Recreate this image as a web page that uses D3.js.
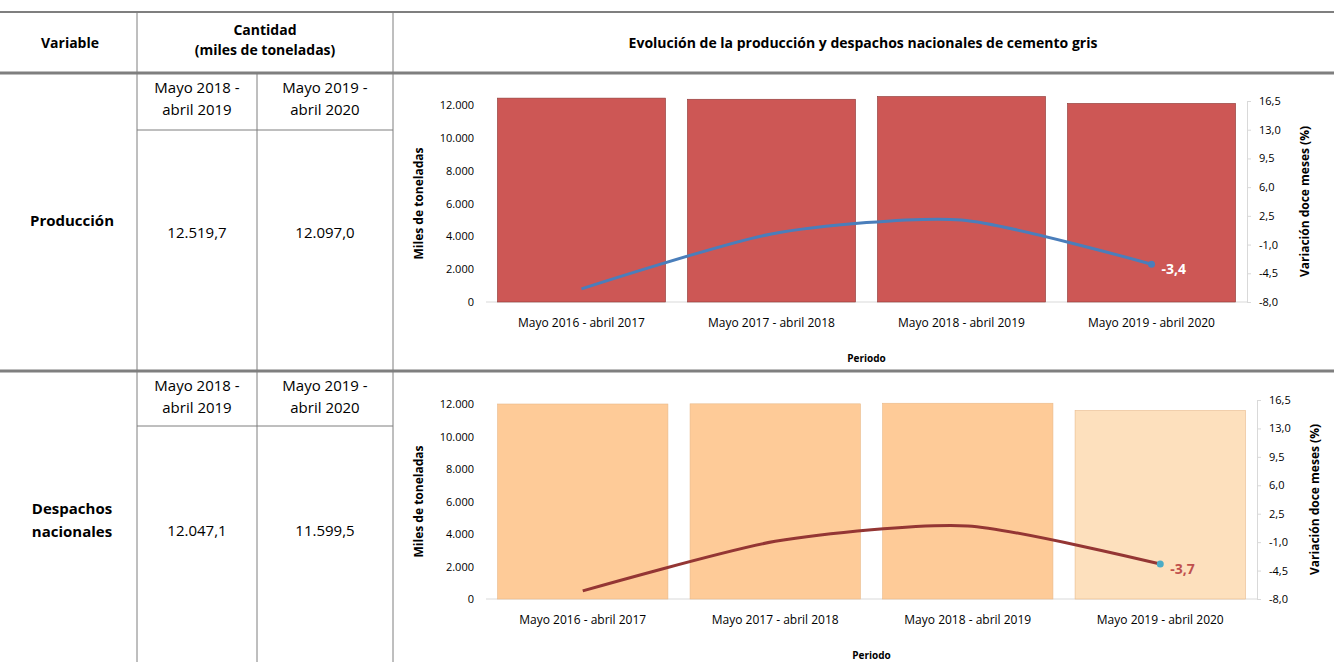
<!DOCTYPE html>
<html><head><meta charset="utf-8">
<script src="https://cdn.jsdelivr.net/npm/d3@7"></script>
<style>body{margin:0;background:#fff;font-family:"Open Sans",sans-serif}</style>
</head><body><svg id="svg" width="1334" height="662"></svg>
<script>
// data
const periods = ["Mayo 2016 - abril 2017","Mayo 2017 - abril 2018","Mayo 2018 - abril 2019","Mayo 2019 - abril 2020"]
const produccion = [12420, 12350, 12519.7, 12097.0]
const prodVar = [-6.4, 0.3, 2.0, -3.4]
const despachos = [12000, 12010, 12047.1, 11599.5]
const despVar = [-7.0, -0.9, 1.0, -3.7]
const leftTicks = [0, 2000, 4000, 6000, 8000, 10000, 12000]
const rightTicks = [-8.0, -4.5, -1.0, 2.5, 6.0, 9.5, 13.0, 16.5]
const tableRows = [
  {name: ["Producción"], a: "12.519,7", b: "12.097,0"},
  {name: ["Despachos", "nacionales"], a: "12.047,1", b: "11.599,5"}
]

const svg = d3.select("#svg")
const fmtL = d3.formatLocale({decimal: ",", thousands: ".", grouping: [3], currency: ["", ""], minus: "-"})
const fmtInt = fmtL.format(",.0f"), fmt1 = fmtL.format(".1f")

// table lines
const gray = "#7f7f7f"
const line = (x1, y1, x2, y2, w) => svg.append("line").attr("x1", x1).attr("y1", y1).attr("x2", x2).attr("y2", y2)
  .attr("stroke", gray).attr("stroke-width", w || 1)
line(0, 12, 1334, 12, 2); line(0, 73, 1334, 73, 3); line(0, 371, 1334, 371, 3)
line(137, 12, 137, 662); line(393, 12, 393, 662)
line(257, 73, 257, 371); line(257, 371, 257, 662)
line(137, 130, 393, 130); line(137, 426, 393, 426)

const txt = (x, y, s, opt = {}) => svg.append("text").attr("x", x).attr("y", y).attr("text-anchor", opt.anchor || "middle")
  .attr("font-size", opt.size || 15).attr("font-weight", opt.bold ? "bold" : null).attr("fill", opt.fill || "#000")
  .attr("font-family", opt.font || "Open Sans").text(s)
txt(70, 48, "Variable", {bold: true, size: 14})
txt(265, 35, "Cantidad", {bold: true, size: 14}); txt(265, 55, "(miles de toneladas)", {bold: true, size: 14})
txt(863, 48, "Evolución de la producción y despachos nacionales de cemento gris", {bold: true, size: 14})

tableRows.forEach((r, i) => {
  const top = i ? 371 : 73
  txt(197, top + 20, "Mayo 2018 -"); txt(197, top + 42, "abril 2019")
  txt(325, top + 20, "Mayo 2019 -"); txt(325, top + 42, "abril 2020")
  const mid = top + 158
  if (r.name.length === 1) txt(72, mid - 5, r.name[0], {bold: true})
  else { txt(72, mid - 15, r.name[0], {bold: true}); txt(72, mid + 8, r.name[1], {bold: true}) }
  txt(197, mid + 7, r.a); txt(325, mid + 7, r.b)
})

function chart(cfg) {
  const g = svg.append("g")
  const x = d3.scaleBand().domain(periods).range([cfg.x0, cfg.x1]).paddingInner(0.115).paddingOuter(0.06)
  const y = d3.scaleLinear().domain([0, 12000]).range([cfg.y0, cfg.y1])
  const y2 = d3.scaleLinear().domain([-8, 16.5]).range([cfg.y0, cfg.y1r])
  const font = "Open Sans"
  const la = g.append("g").attr("transform", `translate(${cfg.x0},0)`)
    .call(d3.axisLeft(y).tickValues(leftTicks).tickFormat(fmtInt).tickSize(0).tickPadding(12))
  la.select(".domain").remove()
  la.selectAll("text").attr("font-size", 11).attr("font-family", font)
  const ra = g.append("g").attr("transform", `translate(${cfg.x1},0)`)
    .call(d3.axisRight(y2).tickValues(rightTicks).tickFormat(fmt1).tickSize(4).tickPadding(8))
  ra.select(".domain").attr("stroke", "#d9d9d9"); ra.selectAll(".tick line").attr("stroke", "#d9d9d9")
  ra.selectAll("text").attr("font-size", 11).attr("font-family", font)
  g.append("line").attr("x1", cfg.x0).attr("x2", cfg.x1).attr("y1", cfg.y0).attr("y2", cfg.y0).attr("stroke", "#d9d9d9")
  g.selectAll(".bar").data(cfg.vals).join("rect").attr("x", (d, i) => x(periods[i])).attr("width", x.bandwidth())
    .attr("y", d => y(d)).attr("height", d => cfg.y0 - y(d)).attr("fill", (d, i) => cfg.colors[i])
    .attr("stroke", cfg.barStroke).attr("stroke-width", 0.6)
  const xa = g.append("g").attr("transform", `translate(0,${cfg.y0})`).call(d3.axisBottom(x).tickSize(0).tickPadding(16))
  xa.select(".domain").remove(); xa.selectAll("text").attr("font-size", 12).attr("font-family", font)
  const pts = cfg.varv.map((v, i) => [x(periods[i]) + x.bandwidth() / 2, y2(v)])
  g.append("path").attr("d", d3.line().curve(d3.curveCardinal.tension(0.3))(pts)).attr("fill", "none")
    .attr("stroke", cfg.lineColor).attr("stroke-width", 3)
  const last = pts[pts.length - 1]
  g.append("circle").attr("cx", last[0]).attr("cy", last[1]).attr("r", 3.5).attr("fill", cfg.dot)
  g.append("text").attr("x", last[0] + 10).attr("y", last[1] + 10).attr("font-size", 14).attr("font-weight", "bold")
    .attr("fill", cfg.labelColor).attr("font-family", font).text(fmt1(cfg.varv[cfg.varv.length - 1]))
  g.append("text").attr("transform", `translate(${cfg.x0 - 63},${(cfg.y0 + cfg.y1) / 2}) rotate(-90)`).attr("text-anchor", "middle")
    .attr("font-size", 12).attr("font-weight", "bold").attr("font-family", font).text("Miles de toneladas")
  g.append("text").attr("transform", `translate(${cfg.x1 + 62},${(cfg.y0 + cfg.y1r) / 2}) rotate(-90)`).attr("text-anchor", "middle")
    .attr("font-size", 12).attr("font-weight", "bold").attr("font-family", font).text("Variación doce meses (%)")
  g.append("text").attr("x", (cfg.x0 + cfg.x1) / 2).attr("y", cfg.y0 + 60).attr("text-anchor", "middle")
    .attr("font-size", 10).attr("font-weight", "bold").attr("font-family", font).text("Periodo")
}

chart({x0: 486, x1: 1247, y0: 302, y1: 105, y1r: 101, vals: produccion, varv: prodVar,
  colors: ["#cd5755", "#cd5755", "#cd5755", "#cd5755"], barStroke: "#8b3a38",
  lineColor: "#4a7ebb", dot: "#4a7ebb", labelColor: "#fff"})
chart({x0: 486, x1: 1257, y0: 599, y1: 404, y1r: 400, vals: despachos, varv: despVar,
  colors: ["#fecb98", "#fecb98", "#fecb98", "#fde0bd"], barStroke: "#e8b98a",
  lineColor: "#943634", dot: "#4bacc6", labelColor: "#c0504d"})
</script></body></html>
